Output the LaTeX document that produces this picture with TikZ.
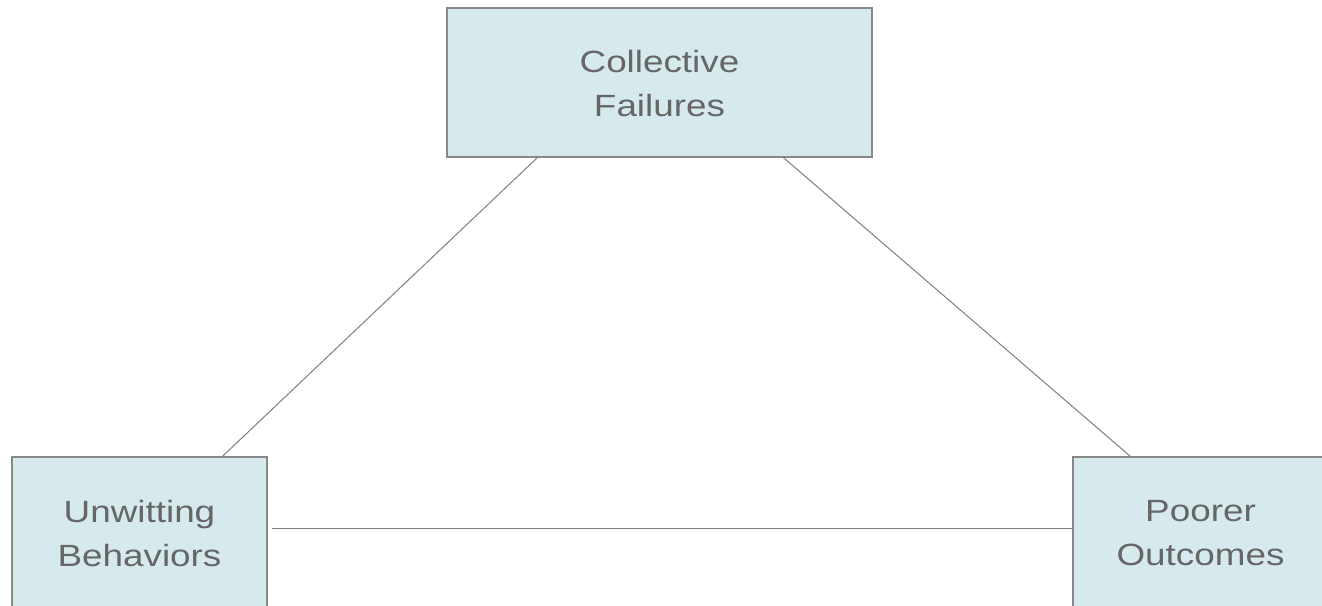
\documentclass[tikz,border=0pt]{standalone}
\usepackage{fontspec}
\newfontfamily\boxfont[FakeStretch=1.2]{Liberation Sans}
\definecolor{boxfill}{HTML}{D6EAEE}
\definecolor{boxline}{HTML}{888888}
\definecolor{linkline}{HTML}{7F7F7F}
\definecolor{txt}{HTML}{666666}
\begin{document}
\begin{tikzpicture}[x=1pt,y=-1pt,
  conceptbox/.style={draw=boxline,fill=boxfill,line width=1.2pt,inner sep=0pt,
    minimum height=149pt,align=center,text=txt,
    font=\boxfont\fontsize{30.7}{44}\selectfont},
  link/.style={draw=linkline,line width=1pt}]
\clip (0,0) rectangle (1322,605);
\fill[white] (0,0) rectangle (1322,605);
\node[conceptbox,minimum width=425pt] (top) at (659.5,82.5) {\rule{0pt}{25pt}Collective\\Failures};
\node[conceptbox,minimum width=255pt,minimum height=153pt] (bl) at (139.5,533.5) {Unwitting\\Behaviors};
\node[conceptbox,minimum width=255pt,minimum height=153pt] (br) at (1200.5,533.5) {Poorer\\Outcomes};
\draw[link] ([xshift=91pt]top.south west) -- ([xshift=211pt]bl.north west);
\draw[link] ([xshift=337pt]top.south west) -- ([xshift=58pt]br.north west);
\draw[link] ([xshift=4pt,yshift=5.5pt]bl.east) -- ([yshift=5.5pt]br.west);
\end{tikzpicture}
\end{document}
